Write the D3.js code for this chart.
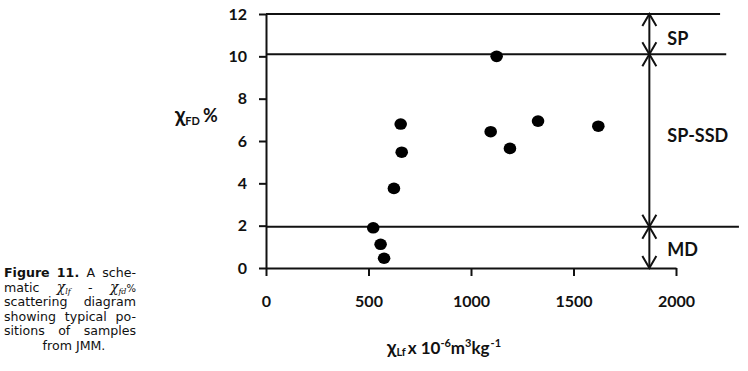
<!DOCTYPE html>
<html>
<head>
<meta charset="utf-8">
<script src="https://cdn.jsdelivr.net/npm/d3@7"></script>
<style>
  body { margin: 0; background: #fff; }
  svg { display: block; }
  .tick text { font-family: Lato, "Open Sans", sans-serif; font-weight: 700; font-size: 16px; fill: #111; }
  .cap { font-family: "DejaVu Sans", Verdana, sans-serif; font-size: 12.6px; fill: #111; }
</style>
</head>
<body>
<div id="chart"></div>
<script>
// samples: low-frequency susceptibility vs frequency-dependent %
var xlfValues = [523, 559, 576, 624, 657, 662, 1096, 1125, 1190, 1327, 1621];
var xfdValues = [1.9, 1.12, 0.46, 3.76, 6.8, 5.47, 6.44, 10.0, 5.65, 6.94, 6.7];

var xTicks = [0, 500, 1000, 1500, 2000];
var yTicks = [0, 2, 4, 6, 8, 10, 12];

// zone boundaries (level, and where the hand-drawn line stops)
var boundaryLevels = [12, 10.1, 1.95];
var boundaryEnds = [2215, 2245, 2307];

var zoneLabels = ["SP", "SP-SSD", "MD"];
var zoneTops = [12, 10.1, 1.95];
var zoneBottoms = [10.1, 1.95, 0];
var arrowX = 1870;

var W = 748, H = 371;

var svg = d3.select("#chart").append("svg")
    .attr("width", W)
    .attr("height", H);

var x = d3.scaleLinear().domain([0, 2000]).range([266, 676]);
var y = d3.scaleLinear().domain([0, 12]).range([268, 14]);

// axes
svg.append("g")
    .attr("transform", "translate(0," + y(0) + ")")
    .call(d3.axisBottom(x).tickValues(xTicks).tickFormat(d3.format("d"))
        .tickSize(8).tickSizeOuter(0).tickPadding(20));

svg.append("g")
    .attr("transform", "translate(" + x(0) + ",0)")
    .call(d3.axisLeft(y).tickValues(yTicks).tickSize(7).tickSizeOuter(0).tickPadding(12));

svg.selectAll(".domain, .tick line")
    .attr("stroke", "#111")
    .attr("stroke-width", 2);

// boundary lines
svg.selectAll("line.bound")
    .data(boundaryLevels)
    .enter().append("line")
    .attr("class", "bound")
    .attr("x1", x(0))
    .attr("x2", function (d, i) { return x(boundaryEnds[i]); })
    .attr("y1", function (d) { return y(d); })
    .attr("y2", function (d) { return y(d); })
    .attr("stroke", "#111")
    .attr("stroke-width", 2);

// double headed arrows for each zone
var ah = 12, aw = 7;
zoneLabels.forEach(function (lab, i) {
    var ax = x(arrowX), yt = y(zoneTops[i]), yb = y(zoneBottoms[i]);
    var g = svg.append("g")
        .attr("fill", "none")
        .attr("stroke", "#111")
        .attr("stroke-width", 2);
    g.append("line").attr("x1", ax).attr("x2", ax).attr("y1", yt).attr("y2", yb);
    g.append("path").attr("d", "M" + (ax - aw) + "," + (yt + ah) + "L" + ax + "," + yt + "L" + (ax + aw) + "," + (yt + ah));
    g.append("path").attr("d", "M" + (ax - aw) + "," + (yb - ah) + "L" + ax + "," + yb + "L" + (ax + aw) + "," + (yb - ah));
});

var labelShift = [4, -5, 2];
svg.selectAll("text.zone")
    .data(zoneLabels)
    .enter().append("text")
    .attr("class", "zone")
    .attr("x", x(arrowX) + 18)
    .attr("y", function (d, i) { return (y(zoneTops[i]) + y(zoneBottoms[i])) / 2 + labelShift[i]; })
    .attr("dominant-baseline", "central")
    .attr("font-family", "Lato, sans-serif")
    .attr("font-weight", 700)
    .attr("font-size", 18)
    .attr("fill", "#111")
    .text(function (d) { return d; });

// points
svg.selectAll("ellipse.pt")
    .data(xlfValues)
    .enter().append("ellipse")
    .attr("class", "pt")
    .attr("cx", function (d) { return x(d); })
    .attr("cy", function (d, i) { return y(xfdValues[i]); })
    .attr("rx", 6.3)
    .attr("ry", 5.8)
    .attr("fill", "#000");

// axis titles
var yt = svg.append("text")
    .attr("x", 175).attr("y", 122)
    .attr("font-family", "Lato, sans-serif")
    .attr("font-weight", 700)
    .attr("fill", "#111");
yt.append("tspan").attr("font-size", 21).text("χ");
yt.append("tspan").attr("font-size", 11).attr("dy", 3).text("FD");
yt.append("tspan").attr("font-size", 18).attr("dy", -3).attr("dx", 3).text("%");

var xt = svg.append("text")
    .attr("x", 387).attr("y", 354)
    .attr("font-family", "Lato, sans-serif")
    .attr("font-weight", 700)
    .attr("font-size", 17)
    .attr("fill", "#111");
xt.append("tspan").attr("font-size", 19).text("χ");
xt.append("tspan").attr("font-size", 11).attr("dy", 2).text("Lf");
xt.append("tspan").attr("dy", -2).attr("dx", 2).text("x 10");
xt.append("tspan").attr("font-size", 11).attr("dy", -7).text("-6");
xt.append("tspan").attr("dy", 7).text("m");
xt.append("tspan").attr("font-size", 11).attr("dy", -7).text("3");
xt.append("tspan").attr("dy", 7).text("kg");
xt.append("tspan").attr("font-size", 11).attr("dy", -7).attr("dx", 1).text("-1");

// figure caption, justified like the page layout
var capLines = [
    [[{t: "Figure", b: 1}], [{t: "11.", b: 1}], [{t: "A"}], [{t: "sche-"}]],
    [[{t: "matic"}], [{t: "χ", i: 1}, {t: "lf", s: 1}], [{t: "-"}], [{t: "χ", i: 1}, {t: "fd", s: 1}, {t: "%", z: 1}]],
    [[{t: "scattering"}], [{t: "diagram"}]],
    [[{t: "showing"}], [{t: "typical"}], [{t: "po-"}]],
    [[{t: "sitions"}], [{t: "of"}], [{t: "samples"}]],
    [[{t: "from JMM."}]]
];
var capLeft = 4, capRight = 136, capTop = 277, capStep = 14.5;

capLines.forEach(function (words, li) {
    var nodes = words.map(function (segs) {
        var t = svg.append("text").attr("class", "cap").attr("y", capTop + li * capStep);
        segs.forEach(function (s) {
            var sp = t.append("tspan").text(s.t);
            if (s.b) sp.attr("font-weight", 700);
            if (s.i) sp.attr("font-family", "DejaVu Serif, serif").attr("font-style", "italic").attr("font-size", 14);
            if (s.s) sp.attr("font-family", "DejaVu Serif, serif").attr("font-style", "italic").attr("font-size", 8).attr("dy", 2);
            if (s.z) sp.attr("font-size", 10).attr("dy", -2);
        });
        return t;
    });
    var widths = nodes.map(function (n) { return n.node().getComputedTextLength(); });
    var total = d3.sum(widths);
    if (nodes.length === 1) {
        nodes[0].attr("x", (capLeft + capRight) / 2 + 4).attr("text-anchor", "middle");
        return;
    }
    var gap = (capRight - capLeft - total) / (nodes.length - 1);
    var cx = capLeft;
    nodes.forEach(function (n, k) {
        n.attr("x", cx);
        cx += widths[k] + gap;
    });
});
</script>
</body>
</html>
